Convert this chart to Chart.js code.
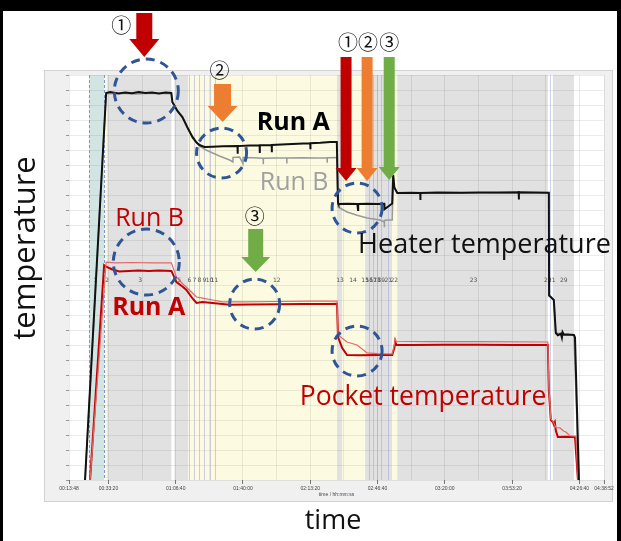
<!DOCTYPE html>
<html>
<head>
<meta charset="utf-8">
<script src="https://cdn.jsdelivr.net/npm/chart.js@4/dist/chart.umd.min.js"></script>
<style>
  html, body { margin: 0; padding: 0; background: #000; }
  #wrap { position: absolute; left: 0; top: 0; width: 621px; height: 541px; }
</style>
</head>
<body>
<div id="wrap"><canvas id="tempChart" width="621" height="541"></canvas></div>
<script>
// x = seconds since start of log, y = temperature (no scale on the original, one grid step = 10)
const heaterA = [[1305,0],[1932,258],[2050,258.6],[2300,257.6],[2500,258.4],[2700,257.8],[2900,258.6],[3100,258],[3300,258.3],[3500,257.6],[3700,258.4],[3870,258],
  [3902,252],[4050,246],[4200,242],[4350,235],[4498,228.7],[4620,225],[4707,223.3],[4856,222],[5100,222.2],[5400,222.5],[5838,222.6],[5841,217.5],[5846,222.6],
  [6200,223],[6495,223.1],[6498,218],[6503,223.1],[6853,223.3],[6856,218.5],[6861,223.3],[7300,223.8],[7800,224.3],[8000,224.5],[8003,220.5],[8008,224.5],
  [8300,224.8],[8600,225.3],[8790,225.3],[8825,184.7],[8840,184],[9100,184.2],[9400,184],[9420,180],[9425,184],[9700,184.2],[10000,184],[10200,184.2],[10205,180.5],
  [10436,184.3],[10466,203.3],[10500,195],[10586,191.3],[11000,191.5],[11270,191.4],[11273,186.7],[11278,191.4],[11800,191.6],[12500,191.5],[13000,191.7],
  [13600,191.6],[14196,191.8],[14200,187],[14205,191.8],[14700,191.7],[15092,191.5],[15100,123],[15150,122],[15240,120],[15300,98],[15360,96.5],[15450,97.5],
  [15480,95],[15500,98.5],[15540,96.8],[15650,97],[15838,96.7],[15870,95],[15987,0]];
const heaterB = [[1305,0],[1932,257.5],[2300,257.8],[2800,257.4],[3300,257.8],[3870,257.5],[3902,251.5],[4200,241.5],[4498,228],[4707,222.5],[4900,220],
  [5100,218],[5300,216],[5602,213.3],[5700,212],[5705,215],[5900,215.3],[6000,211],[6005,215],[6300,214.8],[6600,214.5],[6603,210.5],[6607,214.5],[7000,214.7],
  [7300,214.6],[7303,211],[7307,214.6],[7800,214.8],[8200,214.7],[8500,214.9],[8503,211.5],[8507,214.9],[8790,215],[8825,182],[9094,178.7],[9392,176.5],
  [9690,174.7],[10078,173.3],[10200,172],[10203,168.5],[10206,173],[10300,173.3],[10436,173.3],[10466,203],[10500,195],[10586,191.3],[11500,191.2],
  [13000,191.4],[15092,191.2],[15100,123],[15240,120],[15300,98],[15838,96.5],[15987,0]];
const pocketA = [[1455,0],[1872,143.3],[1950,142],[2100,140.5],[2320,139],[2600,139.3],[2900,139.6],[3200,139.4],[3500,139.6],[3872,139.4],[4021,132],
  [4200,129],[4319,126.7],[4500,121],[4618,118],[4797,118.7],[5095,118],[5602,116.8],[6200,117],[7000,117.2],[7800,117.3],[8500,117.4],[8795,117.5],
  [8825,95.3],[8950,88],[9094,83.3],[9500,83.2],[10000,83.3],[10436,83.3],[10500,88],[10526,92.5],[10560,90],[11000,90],[12000,90.2],[13000,90.1],
  [14000,90],[15062,90],[15092,60],[15151,40],[15211,38.7],[15240,37],[15270,38.5],[15300,33],[15360,28.7],[15600,28.8],[15870,28.6],[15897,28.6],[15957,0]];
const pocketB = [[1455,0],[1932,145.3],[2200,144.8],[2700,145],[3300,144.7],[3872,144.7],[4021,135.3],[4200,131],[4498,124.7],[4620,122],[4797,121.3],
  [5095,120],[5394,118.7],[6000,118.8],[7000,119],[8000,119.2],[8795,119.3],[8825,96.7],[9094,92],[9392,90],[9690,84.7],[10000,84.3],[10436,84],
  [10500,90],[10526,94],[10560,92.5],[11500,92.3],[13000,92.2],[15062,92],[15092,62],[15151,41],[15240,38],[15300,35],[15420,34.7],[15540,32.5],
  [15599,32],[15717,29.5],[15897,29.3],[15957,0]];

// time axis
const xTickSeconds = [828, 2000, 4000, 6000, 8000, 10000, 12000, 14000, 16000, 16732];
const xTickLabels = ['00:13:48', '00:33:20', '01:06:40', '01:40:00', '02:13:20', '02:46:40', '03:20:00', '03:53:20', '04:26:40', '04:38:52'];

// test phases: [start s, end s, kind]
const phaseBands = [[1425,1872,'teal'],[1872,1962,'cream'],[1962,3872,'gray'],[3961,4379,'gray'],[4379,8795,'cream'],[8795,8944,'gray'],
  [8944,9631,'cream'],[9631,10436,'gray'],[10436,10586,'cream'],[10586,15062,'gray'],[15211,15838,'gray']];
const phaseLines = [4409, 4558, 4707, 4856, 5006, 5155, 9750, 9870, 9989, 10108, 10317, 15120];
const phaseNumbers = ['1','2','3','5','6','7','8','9','10','11','12','13','14','15','16','17','18','19','21','22','23','20','21','29'];
const phaseNumberSeconds = [1604,1962,2947,4110,4409,4558,4707,4856,5006,5155,7005,8885,9273,9631,9750,9870,9989,10108,10317,10496,12853,15062,15181,15539];

const bandColors = { teal: '#d3e5e3', cream: '#fcfbe2', gray: '#e1e1e1' };

const callouts = {
  circles: [[3126,259.3,32],[5364,218,25],[9392,181.3,25],[3126,145.3,33],[6348,117.3,25],[9392,86,25]],
  arrows: [
    { s: 3066, top: 311.3, tip: 282, shaft: 16, head: 30, headLen: 18, color: '#c00000' },
    { s: 5393, top: 264, tip: 238.7, shaft: 17, head: 30, headLen: 16, color: '#ed7d31' },
    { s: 9064, top: 282, tip: 199.3, shaft: 11, head: 21, headLen: 13, color: '#c00000' },
    { s: 9690, top: 282, tip: 199.3, shaft: 11, head: 21, headLen: 13, color: '#ed7d31' },
    { s: 10347, top: 282, tip: 200, shaft: 11, head: 21, headLen: 13, color: '#70ad47' },
    { s: 6378, top: 167.3, tip: 138.7, shaft: 15, head: 29, headLen: 15, color: '#70ad47' }
  ],
  texts: [
    { text: '①', s: 2380, T: 303.3, font: '20px "Noto Sans CJK JP"', color: '#111', align: 'center' },
    { text: '②', s: 5304, T: 273.3, font: '20px "Noto Sans CJK JP"', color: '#111', align: 'center' },
    { text: '①', s: 9123, T: 292, font: '20px "Noto Sans CJK JP"', color: '#111', align: 'center' },
    { text: '②', s: 9720, T: 292, font: '20px "Noto Sans CJK JP"', color: '#111', align: 'center' },
    { text: '③', s: 10347, T: 292, font: '20px "Noto Sans CJK JP"', color: '#111', align: 'center' },
    { text: '③', s: 6348, T: 176, font: '20px "Noto Sans CJK JP"', color: '#111', align: 'center' },
    { text: 'Run A', s: 6408, T: 233.3, font: 'bold 25px "Open Sans"', color: '#000', align: 'left', base: 'alphabetic' },
    { text: 'Run B', s: 6498, T: 193.3, font: '25px "Open Sans"', color: '#a0a0a0', align: 'left', base: 'alphabetic' },
    { text: 'Heater temperature', s: 9422, T: 151.3, font: '27px "Open Sans"', color: '#111', align: 'left', base: 'alphabetic' },
    { text: 'Run B', s: 2201, T: 169.3, font: '25px "Open Sans"', color: '#c00000', align: 'left', base: 'alphabetic' },
    { text: 'Run A', s: 2111, T: 110, font: 'bold 25px "Open Sans"', color: '#c00000', align: 'left', base: 'alphabetic' },
    { text: 'Pocket temperature', s: 7691, T: 50, font: '26.5px "Open Sans"', color: '#c00000', align: 'left', base: 'alphabetic' }
  ]
};

const toPoints = arr => arr.map(([t, T]) => ({ x: t, y: T }));

const gridSeconds = [828];
for (let s = 2000; s <= 16000; s += 1000) gridSeconds.push(s);
gridSeconds.push(16732);

const backdrop = {
  id: 'backdrop',
  beforeDraw(chart) {
    const { ctx, chartArea: a, scales: { x } } = chart;
    ctx.save();
    ctx.fillStyle = '#000';
    ctx.fillRect(0, 0, chart.width, chart.height);
    ctx.fillStyle = '#fff';
    ctx.fillRect(3, 11, 614, 530);
    // chart panel
    ctx.fillStyle = '#f0f0f0';
    ctx.fillRect(a.left - 25, a.top - 5, a.right - a.left + 34, a.bottom - a.top + 27);
    ctx.strokeStyle = '#d2d2d2';
    ctx.lineWidth = 1;
    ctx.strokeRect(a.left - 24.5, a.top - 4.5, a.right - a.left + 33, a.bottom - a.top + 26);
    ctx.fillStyle = '#fff';
    ctx.fillRect(a.left, a.top, a.right - a.left, a.bottom - a.top);
    phaseBands.forEach(([s0, s1, kind]) => {
      const x0 = x.getPixelForValue(s0), x1 = x.getPixelForValue(s1);
      ctx.fillStyle = bandColors[kind];
      ctx.fillRect(x0, a.top, x1 - x0, a.bottom - a.top);
    });
    ctx.restore();
  },
  beforeDatasetsDraw(chart) {
    const { ctx, chartArea: a, scales: { x, y } } = chart;
    ctx.save();
    ctx.lineWidth = 1;
    ctx.strokeStyle = 'rgba(160,170,215,0.55)';
    phaseLines.forEach(s => {
      const px = Math.round(x.getPixelForValue(s)) + 0.5;
      ctx.beginPath(); ctx.moveTo(px, a.top); ctx.lineTo(px, a.bottom); ctx.stroke();
    });
    // dashed markers around heat-up phase
    ctx.strokeStyle = '#7c97d8';
    ctx.setLineDash([3, 2]);
    [phaseBands[0][0], phaseBands[0][1]].forEach(s => {
      const px = Math.round(x.getPixelForValue(s)) + 0.5;
      ctx.beginPath(); ctx.moveTo(px, a.top); ctx.lineTo(px, a.bottom); ctx.stroke();
    });
    ctx.setLineDash([]);
    ctx.fillStyle = '#555';
    ctx.font = '6px "DejaVu Sans"';
    ctx.textAlign = 'center';
    ctx.textBaseline = 'middle';
    const yNum = y.getPixelForValue(133.3);
    phaseNumbers.forEach((n, i) => ctx.fillText(n, x.getPixelForValue(phaseNumberSeconds[i]), yNum));
    // time axis labels (the scale box is collapsed, so they are drawn here)
    ctx.fillStyle = '#444';
    ctx.font = '5px "Liberation Sans"';
    xTickSeconds.forEach((s, i) => ctx.fillText(xTickLabels[i], x.getPixelForValue(s), a.bottom + 9));
    ctx.fillText('time / hh:mm:ss', (a.left + a.right) / 2, a.bottom + 15);
    ctx.restore();
  },
  afterDraw(chart) {
    const { ctx, scales: { x, y } } = chart;
    ctx.save();
    callouts.arrows.forEach(ar => {
      const cx = x.getPixelForValue(ar.s), y0 = y.getPixelForValue(ar.top), y1 = y.getPixelForValue(ar.tip);
      ctx.fillStyle = ar.color;
      ctx.beginPath();
      ctx.moveTo(cx - ar.shaft / 2, y0);
      ctx.lineTo(cx + ar.shaft / 2, y0);
      ctx.lineTo(cx + ar.shaft / 2, y1 - ar.headLen);
      ctx.lineTo(cx + ar.head / 2, y1 - ar.headLen);
      ctx.lineTo(cx, y1);
      ctx.lineTo(cx - ar.head / 2, y1 - ar.headLen);
      ctx.lineTo(cx - ar.shaft / 2, y1 - ar.headLen);
      ctx.closePath();
      ctx.fill();
    });
    ctx.strokeStyle = '#2f5597';
    ctx.lineWidth = 3;
    ctx.setLineDash([9, 6]);
    callouts.circles.forEach(([s, T, r]) => {
      ctx.beginPath();
      ctx.arc(x.getPixelForValue(s), y.getPixelForValue(T), r, 0, Math.PI * 2);
      ctx.stroke();
    });
    ctx.setLineDash([]);
    callouts.texts.forEach(t => {
      ctx.font = t.font;
      ctx.fillStyle = t.color;
      ctx.textAlign = t.align;
      ctx.textBaseline = t.base || 'middle';
      ctx.fillText(t.text, x.getPixelForValue(t.s), y.getPixelForValue(t.T));
    });
    // slide axis titles
    ctx.fillStyle = '#111';
    ctx.font = '27px "Open Sans"';
    ctx.textAlign = 'center';
    ctx.textBaseline = 'alphabetic';
    ctx.fillText('time', 333, 529);
    ctx.font = '31px "Open Sans"';
    ctx.translate(35, 248);
    ctx.rotate(-Math.PI / 2);
    ctx.fillText('temperature', 0, 0);
    ctx.restore();
  }
};

new Chart(document.getElementById('tempChart'), {
  type: 'line',
  data: {
    datasets: [
      { label: 'Heater Run A', data: toPoints(heaterA), borderColor: '#111', borderWidth: 2 },
      { label: 'Heater Run B', data: toPoints(heaterB), borderColor: '#9a9a9a', borderWidth: 1.5 },
      { label: 'Pocket Run B', data: toPoints(pocketB), borderColor: '#e26868', borderWidth: 1.2 },
      { label: 'Pocket Run A', data: toPoints(pocketA), borderColor: '#c00000', borderWidth: 2 }
    ]
  },
  options: {
    responsive: false,
    devicePixelRatio: 1,
    animation: false,
    elements: { point: { radius: 0 }, line: { tension: 0 } },
    layout: { padding: { left: 69, right: 17, top: 75, bottom: 61 } },
    plugins: { legend: { display: false }, tooltip: { enabled: false } },
    scales: {
      x: {
        type: 'linear',
        min: 828,
        max: 16732,
        afterBuildTicks: s => { s.ticks = gridSeconds.map(v => ({ value: v })); },
        afterFit: s => { s.height = 0; },
        ticks: { display: false },
        grid: {
          color: 'rgba(0,0,0,0.08)',
          tickLength: 4,
          tickColor: c => (c.tick && xTickSeconds.includes(c.tick.value)) ? '#777' : 'rgba(0,0,0,0)'
        },
        border: { display: false }
      },
      y: {
        min: 0,
        max: 270,
        afterFit: s => { s.width = 0; },
        ticks: { stepSize: 10, display: false },
        grid: { color: 'rgba(0,0,0,0.075)', tickLength: 3, tickColor: '#999' },
        border: { display: false }
      }
    }
  },
  plugins: [backdrop]
});
</script>
</body>
</html>
